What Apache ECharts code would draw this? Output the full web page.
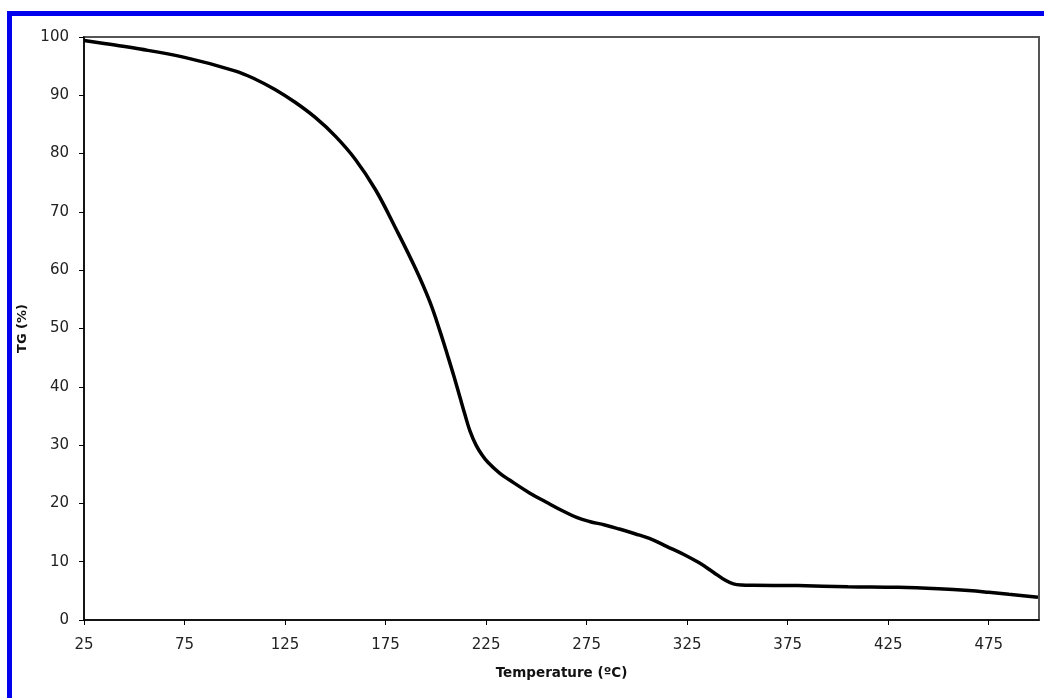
<!DOCTYPE html>
<html>
<head>
<meta charset="utf-8">
<script src="https://cdn.jsdelivr.net/npm/echarts@6/dist/echarts.min.js"></script>
<style>
html,body{margin:0;padding:0;background:#fff;}
#chart{width:1044px;height:698px;}
</style>
</head>
<body>
<div id="chart"></div>
<script>
const temperature = [25, 35, 50, 75, 100, 110, 120, 130, 140, 150, 160, 170, 180, 190, 197, 202, 206, 209, 212, 214.5, 217, 220, 223, 226, 231.7, 236.7, 246.6, 255, 263.2, 270, 276.4, 284, 291.3, 299, 306.2, 315, 323.6, 331, 338, 344, 348, 352, 358, 380, 405, 430, 450, 465, 475, 485, 499.5];
const tg = [99.4, 98.9, 98.1, 96.5, 94.2, 92.8, 91.0, 88.8, 86.2, 83.0, 79.0, 73.8, 67.2, 60.2, 54.6, 49.6, 45.2, 41.8, 38.2, 35.2, 32.4, 30.0, 28.3, 27.0, 25.2, 24.0, 21.8, 20.2, 18.7, 17.6, 16.9, 16.3, 15.6, 14.8, 14.0, 12.6, 11.2, 9.8, 8.2, 6.8, 6.2, 6.0, 5.95, 5.9, 5.7, 5.6, 5.35, 5.05, 4.75, 4.4, 3.9];
const xTicks = [25, 75, 125, 175, 225, 275, 325, 375, 425, 475];

const chart = echarts.init(document.getElementById('chart'), null, {renderer: 'canvas'});
const font = 'DejaVu Sans';
chart.setOption({
  backgroundColor: '#fff',
  animation: false,
  grid: {left: 84, top: 37, right: 5, bottom: 78, show: true, borderColor: '#555', borderWidth: 2, backgroundColor: 'transparent'},
  xAxis: {
    type: 'value', min: 25, max: 500,
    name: 'Temperature (ºC)', nameLocation: 'middle', nameGap: 46,
    nameTextStyle: {fontFamily: font, fontSize: 13.5, fontWeight: 'bold', color: '#111'},
    axisLine: {show: true, lineStyle: {color: '#000', width: 1.5}},
    axisTick: {show: true, length: 5, customValues: xTicks, lineStyle: {color: '#000'}},
    axisLabel: {customValues: xTicks, margin: 18, fontFamily: font, fontSize: 15, color: '#222'},
    splitLine: {show: false}
  },
  yAxis: {
    type: 'value', min: 0, max: 100, interval: 10,
    name: 'TG (%)', nameLocation: 'middle', nameGap: 52,
    nameTextStyle: {fontFamily: font, fontSize: 13, fontWeight: 'bold', color: '#111'},
    axisLine: {show: true, lineStyle: {color: '#000', width: 1.5}},
    axisTick: {show: true, length: 5, lineStyle: {color: '#000'}},
    axisLabel: {margin: 15, fontFamily: font, fontSize: 15, color: '#222'},
    splitLine: {show: false}
  },
  series: [{
    type: 'line',
    data: temperature.map((t, i) => [t, tg[i]]),
    smooth: 0.4,
    showSymbol: false,
    lineStyle: {color: '#000', width: 3.5},
    clip: true
  }],
  graphic: [
    {type: 'rect', shape: {x: 7, y: 11, width: 1037, height: 5}, style: {fill: '#0000ee'}},
    {type: 'rect', shape: {x: 7, y: 11, width: 5, height: 687}, style: {fill: '#0000ee'}}
  ]
});
</script>
</body>
</html>
